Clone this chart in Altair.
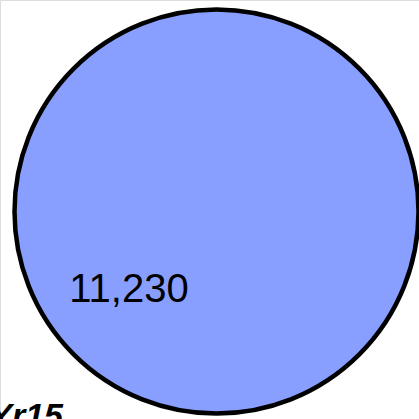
import altair as alt
import pandas as pd

# One set, drawn as a single disc whose area stands for its size
set_names = ["Yr15"]
set_counts = [11230]

# Canvas and layout (pixels)
W, H = 419, 419
CX, CY = 216.5, 211.5          # disc centre
R = 202.0                      # disc radius for the largest set
COUNT_X, COUNT_Y = 129, 302    # count label
NAME_X, NAME_Y = 63, 427       # set name label

df = pd.DataFrame({
    "set": set_names,
    "count": set_counts,
    "cx": [CX], "cy": [CY],
    "lx": [COUNT_X], "ly": [COUNT_Y],
    "nx": [NAME_X], "ny": [NAME_Y],
})
df["label"] = df["count"].map(lambda v: f"{v:,}")

xs = alt.Scale(domain=[0, W], range=[0, W])
ys = alt.Scale(domain=[0, H], range=[0, H])
# Vega's circle symbol size is the area of its bounding square
size_max = (2 * R) ** 2

disc = alt.Chart(df).mark_circle(
    color="#889FFF", opacity=1, stroke="black", strokeWidth=4.5
).encode(
    x=alt.X("cx:Q", scale=xs, axis=None),
    y=alt.Y("cy:Q", scale=ys, axis=None),
    size=alt.Size("count:Q", scale=alt.Scale(domain=[0, max(set_counts)], range=[0, size_max]), legend=None),
)

count_text = alt.Chart(df).mark_text(
    font="Liberation Sans", fontSize=40, color="black", align="center", baseline="alphabetic"
).encode(
    x=alt.X("lx:Q", scale=xs, axis=None),
    y=alt.Y("ly:Q", scale=ys, axis=None),
    text="label:N",
)

name_text = alt.Chart(df).mark_text(
    font="Liberation Sans", fontSize=34, fontWeight="bold", fontStyle="italic",
    color="black", align="right", baseline="alphabetic"
).encode(
    x=alt.X("nx:Q", scale=xs, axis=None),
    y=alt.Y("ny:Q", scale=ys, axis=None),
    text="set:N",
)

chart = alt.layer(disc, count_text, name_text).properties(
    width=W, height=H, autosize=alt.AutoSizeParams(type="none"), padding=0
).configure_view(stroke=None, clip=False).configure(background="white")

chart.save("out.html", embed_options={"renderer": "svg", "actions": False})
